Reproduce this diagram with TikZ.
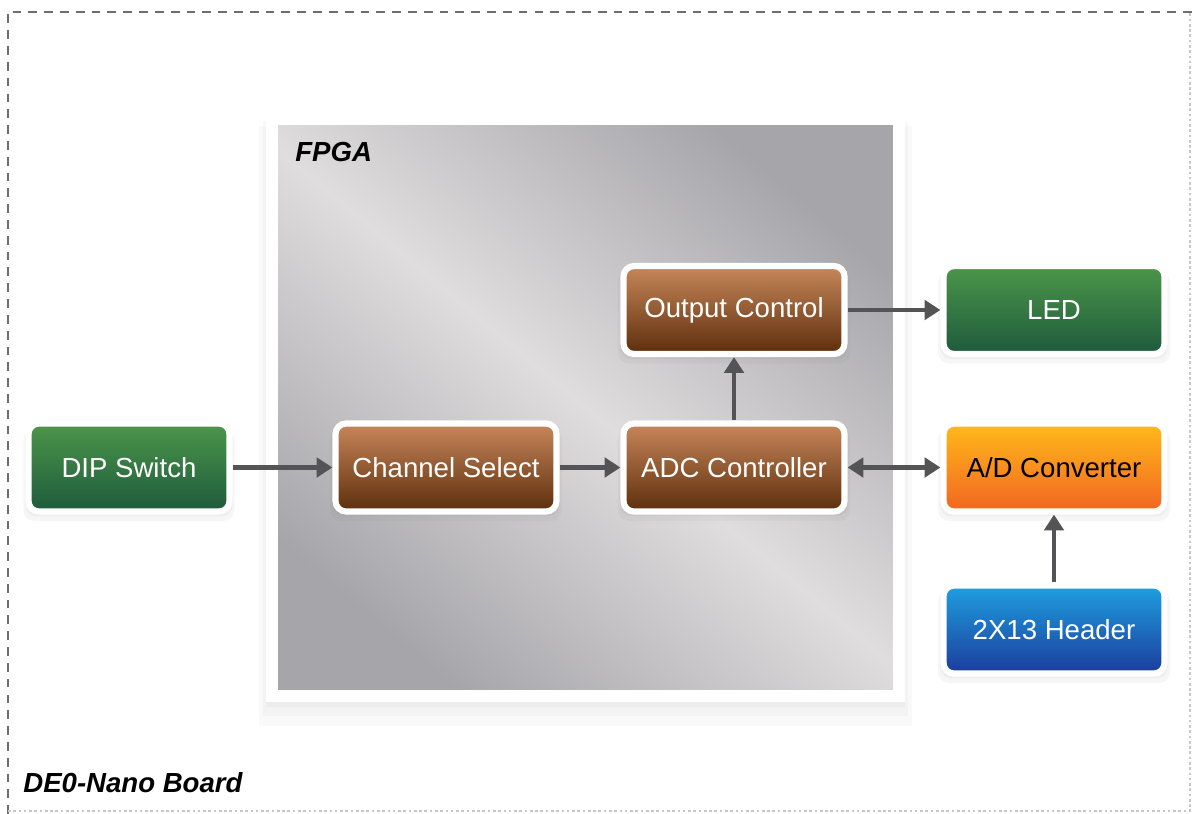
\documentclass[tikz,border=0pt]{standalone}
\usepackage{fontspec}
\setmainfont{Liberation Sans}
\usepackage{xcolor}
\usepackage{tikz}
\usetikzlibrary{arrows.meta,positioning,shadows}
\definecolor{boardInk}{HTML}{545456}
\definecolor{boardFrame}{HTML}{6E6E6E}
\definecolor{boardFaint}{HTML}{C8C8C8}
\definecolor{boardGrayDark}{HTML}{A6A5AA}
\definecolor{boardGrayLight}{HTML}{DFDDDD}
\definecolor{boardBrownTop}{HTML}{C8875A}
\definecolor{boardBrownBot}{HTML}{5C2E0C}
\definecolor{boardGreenTop}{HTML}{4C964A}
\definecolor{boardGreenBot}{HTML}{1E5A3C}
\definecolor{boardOrangeTop}{HTML}{FFBA1A}
\definecolor{boardOrangeBot}{HTML}{F26522}
\definecolor{boardBlueTop}{HTML}{1E9FE0}
\definecolor{boardBlueBot}{HTML}{1C3C9C}
\tikzset{
  >={Triangle[length=9pt,width=11pt]},
  boardBox/.style={
    draw=white,
    line width=3.5pt,
    outer sep=0pt,
    rounded corners=6pt,
    minimum width=4.42cm,
    minimum height=1.76cm,
    align=center,
    text=white,
    font=\fontsize{15.7}{18}\selectfont,
    drop shadow={opacity=0.07, shadow xshift=0pt, shadow yshift=-2pt, shadow scale=1.03},
    drop shadow={opacity=0.07, shadow xshift=0pt, shadow yshift=-4pt, shadow scale=1.05}
  },
  brownBox/.style={boardBox, top color=boardBrownTop, bottom color=boardBrownBot},
  greenBox/.style={boardBox, top color=boardGreenTop, bottom color=boardGreenBot},
  orangeBox/.style={boardBox, top color=boardOrangeTop, bottom color=boardOrangeBot, text=black},
  blueBox/.style={boardBox, top color=boardBlueTop, bottom color=boardBlueBot},
  fpgaBox/.style={
    draw=white,
    line width=6.8pt,
    outer sep=0pt,
    top color=boardGrayDark,
    bottom color=boardGrayDark,
    middle color=boardGrayLight,
    shading angle=-40,
    drop shadow={opacity=0.05, shadow xshift=0pt, shadow yshift=-3pt, shadow scale=1.02},
    drop shadow={opacity=0.05, shadow xshift=0pt, shadow yshift=-6pt, shadow scale=1.03},
    drop shadow={opacity=0.05, shadow xshift=0pt, shadow yshift=-10pt, shadow scale=1.04}
  },
  boardArrow/.style={->, line width=2.8pt, draw=boardInk, shorten >=1.75pt, shorten <=1.75pt},
  boardTitle/.style={font=\fontsize{15.7}{18}\selectfont\bfseries\itshape, inner sep=0pt, anchor=base west}
}
\begin{document}
\begin{tikzpicture}
    \useasboundingbox (0,0) rectangle (23.84,-16.28);

    % board frame
    \draw[boardFrame, line width=0.8pt, dash pattern=on 5pt off 4pt]
      (0.16,-16.28) -- (0.16,-0.24) -- (23.84,-0.24);
    \draw[boardFaint, line width=0.6pt, dash pattern=on 1.5pt off 1.5pt]
      (0.16,-16.22) -- (23.8,-16.22) -- (23.8,-0.24);

    \node[fpgaBox, minimum width=12.54cm, minimum height=11.54cm] (fpga) at (11.71,-8.15) {};
    \node[boardTitle] (fpgaLabel) at (5.9,-3.22) {FPGA};
    \node[boardTitle] (boardLabel) at (0.46,-15.84) {DE0-Nano Board};

    \node[greenBox, minimum width=4.02cm] (dip) at (2.58,-9.35) {DIP Switch};
    \node[brownBox, right=2.12cm of dip] (chsel) {Channel Select};
    \node[brownBox, right=1.34cm of chsel] (adc) {ADC Controller};
    \node[brownBox, above=1.39cm of adc] (outctl) {Output Control};
    \node[orangeBox, right=1.98cm of adc] (adconv) {A/D Converter};
    \node[greenBox, right=1.98cm of outctl] (led) {LED};
    \node[blueBox, below=1.48cm of adconv] (hdr) {2X13 Header};

    \draw[boardArrow] (dip) -- (chsel);
    \draw[boardArrow] (chsel) -- (adc);
    \draw[boardArrow] (adc) -- (outctl);
    \draw[boardArrow] (outctl) -- (led);
    \draw[boardArrow, <->] (adc) -- (adconv);
    \draw[boardArrow] (hdr) -- (adconv);
  \end{tikzpicture}
\end{document}
